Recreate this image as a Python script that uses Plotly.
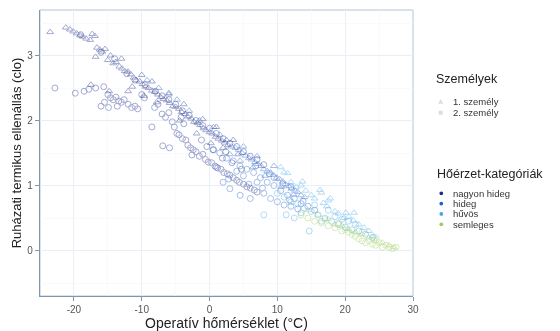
import plotly.graph_objects as go

# ---------------- data ----------------
categories = ["nagyon hideg", "hideg", "hűvös", "semleges"]
cat_colors = ["#1b2a8c", "#2060c8", "#3ea6e8", "#9ccc5a"]
persons = ["1. személy", "2. személy"]

# person 1 (triangles)
p1_nh_x = [-23.5, -21.2, -20.6, -20.1, -19.6, -19.1, -18.7, -18.2, -17.6, -17.3, -16.9, -16.6, -16.2, -15.8,
           -15.4, -15.0, -14.6, -14.2, -13.8, -13.3, -12.9, -12.5, -12.0, -11.6, -11.2, -10.8, -10.3, -9.9,
           -9.4, -9.0, -8.5, -8.1, -7.6, -7.2, -6.8, -6.3, -5.9, -5.4, -5.0, -4.5, -4.1, -3.6, -3.2, -2.7,
           -2.3, -1.8, -1.4, -0.9, -0.5, 0.0, 0.4, 0.9, 1.3, 1.8, 2.2, 2.7, -17.5, -12.0, -8.5, -14.8,
           -16.8, -13.0, -10.0, -6.0, -3.8, -1.0, 1.0, 3.5, -7.8, -4.4, -1.9, 0.2, 2.0, 4.2, -11.4, -9.7]
p1_nh_y = [3.36, 3.43, 3.40, 3.37, 3.34, 3.31, 3.29, 3.26, 3.24, 3.33, 3.30, 3.12, 3.09, 3.06,
           3.10, 2.93, 3.00, 2.88, 2.90, 2.83, 2.80, 2.76, 2.75, 2.71, 2.66, 2.62, 2.60, 2.56,
           2.52, 2.50, 2.46, 2.44, 2.40, 2.36, 2.33, 2.31, 2.27, 2.22, 2.21, 2.18, 2.13, 2.10, 2.06, 2.03,
           1.98, 1.96, 1.93, 1.88, 1.85, 1.82, 1.80, 1.75, 1.72, 1.69, 1.66, 1.62, 2.55, 2.45, 2.60, 2.45,
           2.98, 2.95, 2.70, 2.42, 2.25, 2.02, 1.90, 1.70, 2.28, 2.00, 1.80, 1.65, 1.58, 1.48, 2.52, 2.38]
p1_hi_x = [-9.2, -7.5, -6.0, -4.8, -3.0, -1.5, 0.6, 1.5, 2.5, 3.2, 3.8, 4.3, 4.8, 5.3, 5.8, 6.2, 6.7, 7.1,
           7.6, 8.0, 8.5, 9.0, 9.4, 9.9, 10.3, 10.8, 11.2, 11.7, 12.1, 12.6, 13.0, 13.5, 14.0, 5.0, 7.0, 9.5,
           3.0, 4.5, 6.4, 8.2, 10.6, 12.4]
p1_hi_y = [2.62, 2.50, 2.40, 2.32, 2.15, 2.00, 1.90, 1.78, 1.70, 1.60, 1.58, 1.55, 1.50, 1.46, 1.42, 1.40,
           1.36, 1.33, 1.30, 1.25, 1.22, 1.20, 1.16, 1.12, 1.10, 1.06, 1.02, 0.99, 0.95, 0.92, 0.90, 0.85,
           0.82, 1.60, 1.45, 1.30, 1.48, 1.38, 1.28, 1.15, 0.98, 0.86]
p1_hu_x = [10.5, 11.0, 11.5, 12.0, 12.8, 13.5, 13.7, 14.2, 15.0, 15.5, 16.3, 16.5, 16.8, 17.3, 17.5, 17.8,
           18.5, 19.0, 19.8, 20.1, 20.5, 21.2, 21.3, 22.0, 22.8, 23.5, 24.2]
p1_hu_y = [1.28, 1.20, 1.19, 1.05, 0.98, 1.00, 1.06, 0.92, 0.85, 0.80, 0.93, 0.89, 0.73, 0.68, 0.77, 0.80,
           0.60, 0.57, 0.50, 0.58, 0.52, 0.46, 0.58, 0.40, 0.35, 0.30, 0.22]
p1_se_x = [14.5, 16.0, 17.5, 18.5, 19.5, 20.5, 21.5, 22.5, 23.5, 24.5, 25.5, 26.5, 27.2]
p1_se_y = [0.62, 0.55, 0.48, 0.40, 0.38, 0.33, 0.28, 0.25, 0.20, 0.15, 0.12, 0.08, 0.05]

# person 2 (circles)
p2_nh_x = [-22.8, -19.8, -18.5, -17.8, -16.8, -15.6, -15.0, -14.6, -14.2, -13.8, -13.4, -13.0, -12.6,
           -12.0, -11.5, -11.0, -10.6, -14.9, -16.0, -15.5, -13.6, -10.0, -9.6, -7.0, -6.5, -6.0, -5.5,
           -5.2, -4.8, -4.5, -4.0, -3.5, -3.2, -2.8, -2.4, -2.0, -1.5, -1.0, -0.6, -0.2, 0.3, 0.8, 1.2,
           1.7, 2.1, 2.6, 3.0, 3.5, 4.0, 4.4, 5.0, 5.5, 6.0, 6.6, 7.0,
           -19.0, -16.0, -14.0, -12.2, -11.0, -9.5, -8.0, -7.0, -6.0, -5.0, -4.0, -3.0, -2.0, -1.0,
           0.0, 1.0, 2.0, 3.0, 4.0, 5.0, 6.0, 7.0, 8.0, -6.9, -5.9, -8.5, -8.1, -2.6,
           -3.8, -1.2, 0.6, 1.9, 3.3, 4.7, -0.4, 2.4, -4.2, -7.6]
p2_nh_y = [2.50, 2.42, 2.45, 2.48, 2.50, 2.52, 2.40, 2.35, 2.32, 2.36, 2.30, 2.28, 2.32,
           2.25, 2.20, 2.22, 2.18, 2.20, 2.22, 2.28, 2.22, 2.40, 2.35, 2.10, 2.05, 2.12, 1.98,
           1.90, 1.80, 1.78, 1.72, 1.70, 1.62, 1.58, 1.55, 1.52, 1.45, 1.48, 1.40, 1.36, 1.35, 1.30, 1.27,
           1.25, 1.20, 1.18, 1.16, 1.12, 1.08, 1.05, 1.02, 0.98, 0.96, 0.93, 0.90,
           3.32, 3.05, 2.95, 2.72, 2.62, 2.55, 2.45, 2.38, 2.32, 2.25, 2.15, 2.08, 2.00, 1.92,
           1.88, 1.80, 1.72, 1.65, 1.60, 1.52, 1.45, 1.40, 1.32, 1.61, 1.58, 1.90, 2.20, 1.47,
           1.95, 1.70, 1.55, 1.42, 1.35, 1.25, 1.60, 1.52, 2.05, 2.25]
p2_hi_x = [0.5, 1.5, 2.5, 3.5, 4.5, 5.5, 6.5, 7.5, 8.5, 9.5, 10.5, 11.5, 12.5, 13.5, 14.5, 15.5, 8.0,
           9.0, 10.0, 11.0, 12.0, 13.0, 3.0, 4.5, 6.0, 2.0, 7.0, 5.0, 9.5, 12.0, 8.8, 10.8, 6.8, 4.0,
           1.0, 2.8, 5.8, 7.8, 11.8, 13.8]
p2_hi_y = [1.55, 1.50, 1.42, 1.38, 1.30, 1.25, 1.20, 1.12, 1.05, 1.00, 0.92, 0.85, 0.80, 0.72, 0.68, 0.62,
           0.88, 0.80, 0.75, 0.70, 0.68, 0.64, 0.95, 0.85, 0.80, 1.05, 1.05, 1.15, 1.12, 0.98, 1.18, 1.02,
           1.30, 1.22, 1.28, 1.10, 1.02, 0.96, 0.78, 0.76]
p2_hu_x = [10.0, 11.0, 12.0, 13.0, 14.0, 15.0, 16.0, 17.0, 18.0, 19.0, 20.0, 21.0, 22.0, 23.0, 24.0,
           15.5, 17.5, 19.5, 21.5, 8.0, 12.5, 16.5, 13.5, 20.5, 18.5, 14.7, 11.3]
p2_hu_y = [0.88, 0.82, 0.75, 0.72, 0.65, 0.60, 0.55, 0.50, 0.45, 0.40, 0.36, 0.32, 0.30, 0.25, 0.20,
           0.70, 0.62, 0.48, 0.40, 0.55, 0.50, 0.45, 0.58, 0.45, 0.52, 0.30, 0.55]
p2_se_x = [13.5, 14.5, 15.5, 16.5, 17.0, 17.5, 18.5, 19.0, 19.5, 20.0, 20.5, 21.0, 21.5, 22.0, 22.5,
           23.0, 23.5, 24.0, 24.5, 25.0, 25.5, 26.0, 26.5, 27.0, 27.5, 22.5, 24.5]
p2_se_y = [0.55, 0.50, 0.45, 0.42, 0.48, 0.38, 0.35, 0.42, 0.30, 0.32, 0.28, 0.25, 0.22, 0.18, 0.15,
           0.12, 0.15, 0.10, 0.08, 0.12, 0.05, 0.08, 0.05, 0.03, 0.05, 0.28, 0.20]

x_ticks = [-20, -10, 0, 10, 20, 30]
y_ticks = [0, 1, 2, 3]

# ---------------- figure ----------------
W, H = 560, 331
PL, PR, PT, PB = 40, 413, 10, 296

FONT = "Liberation Sans, Arial, sans-serif"

fig = go.Figure()

series = [
    (0, "triangle-up-open", p1_nh_x, p1_nh_y),
    (1, "triangle-up-open", p1_hi_x, p1_hi_y),
    (2, "triangle-up-open", p1_hu_x, p1_hu_y),
    (3, "triangle-up-open", p1_se_x, p1_se_y),
    (0, "circle-open", p2_nh_x, p2_nh_y),
    (1, "circle-open", p2_hi_x, p2_hi_y),
    (2, "circle-open", p2_hu_x, p2_hu_y),
    (3, "circle-open", p2_se_x, p2_se_y),
]
for ci, sym, xs, ys in series:
    fig.add_trace(go.Scatter(
        x=xs, y=ys, mode="markers", showlegend=False, opacity=0.4,
        marker=dict(symbol=sym, size=6, color=cat_colors[ci], line=dict(width=1, color=cat_colors[ci])),
        hoverinfo="skip"))


def px2paper_x(px):
    return (px - PL) / (PR - PL)


def px2paper_y(py):
    return (PB - py) / (PB - PT)


shapes = [dict(type="rect", xref="paper", yref="paper", x0=0, x1=1, y0=0, y1=1,
               line=dict(color="#b3c6d6", width=1), layer="below")]
annotations = []

# legend 1: persons
annotations.append(dict(text="Személyek", x=px2paper_x(434), y=px2paper_y(79), xref="paper", yref="paper",
                        xanchor="left", yanchor="middle", showarrow=False,
                        font=dict(family=FONT, size=12.5, color="#222222")))
person_rows = [101.7, 112.7]
tri_path = "M -2.6 -2 L 2.6 -2 L 0 2.6 Z"
for i, (name, py) in enumerate(zip(persons, person_rows)):
    annotations.append(dict(text=name, x=px2paper_x(451), y=px2paper_y(py), xref="paper", yref="paper",
                            xanchor="left", yanchor="middle", showarrow=False,
                            font=dict(family=FONT, size=9.5, color="#333333")))
    if i == 0:
        shapes.append(dict(type="path", xref="paper", yref="paper", xsizemode="pixel", ysizemode="pixel",
                           xanchor=px2paper_x(440.7), yanchor=px2paper_y(py), path=tri_path,
                           fillcolor="rgba(150,160,175,0.35)", line=dict(width=0)))
    else:
        shapes.append(dict(type="circle", xref="paper", yref="paper", xsizemode="pixel", ysizemode="pixel",
                           xanchor=px2paper_x(440.7), yanchor=px2paper_y(py), x0=-2.3, x1=2.3, y0=-2.3, y1=2.3,
                           fillcolor="rgba(150,160,175,0.35)", line=dict(width=0)))

# legend 2: categories
annotations.append(dict(text="Hőérzet-kategóriák", x=px2paper_x(435), y=px2paper_y(174), xref="paper",
                        yref="paper", xanchor="left", yanchor="middle", showarrow=False,
                        font=dict(family=FONT, size=12.5, color="#222222")))
cat_rows = [193.3, 203.6, 213.9, 224.3]
for name, col, py in zip(categories, cat_colors, cat_rows):
    annotations.append(dict(text=name, x=px2paper_x(451), y=px2paper_y(py), xref="paper", yref="paper",
                            xanchor="left", yanchor="middle", showarrow=False,
                            font=dict(family=FONT, size=9.5, color="#333333")))
    shapes.append(dict(type="circle", xref="paper", yref="paper", xsizemode="pixel", ysizemode="pixel",
                       xanchor=px2paper_x(441.3), yanchor=px2paper_y(py), x0=-1.9, x1=1.9, y0=-1.9, y1=1.9,
                       fillcolor=col, line=dict(width=0)))

axis_common = dict(
    showgrid=True, gridcolor="#e9eff5", gridwidth=1, automargin=False,
    zeroline=False, showline=True, linecolor="#8397ab", linewidth=1.2,
    ticks="outside", ticklen=4, tickcolor="#8397ab", tickwidth=1,
    tickfont=dict(family=FONT, size=10, color="#555555"),
)

fig.update_layout(
    template="none",
    width=W, height=H,
    margin=dict(l=PL, r=W - PR, t=PT, b=H - PB, pad=0, autoexpand=False),
    paper_bgcolor="white", plot_bgcolor="white",
    font=dict(family=FONT),
    shapes=shapes, annotations=annotations,
    xaxis=dict(axis_common, range=[-25, 30], tickvals=x_ticks, ticktext=[str(v) for v in x_ticks],
               ticklabelstandoff=0,
               minor=dict(showgrid=True, gridcolor="#f3f6f9", gridwidth=0.6, tickvals=[-25, -15, -5, 5, 15, 25]),
               title=dict(text="Operatív hőmérséklet (°C)", standoff=3,
                          font=dict(family=FONT, size=14, color="#222222"))),
    yaxis=dict(axis_common, range=[-0.7, 3.7], tickvals=y_ticks, ticktext=[str(v) for v in y_ticks],
               ticklabelstandoff=0,
               minor=dict(showgrid=True, gridcolor="#f3f6f9", gridwidth=0.6, tickvals=[-0.5, 0.5, 1.5, 2.5, 3.5]),
               title=dict(text="Ruházati termikus ellenállás (clo)", standoff=2,
                          font=dict(family=FONT, size=13, color="#222222"))),
)

fig.write_html("out.html", config={"displayModeBar": False, "staticPlot": True},
               post_script="document.body.style.margin='0';document.body.style.overflow='hidden';")
